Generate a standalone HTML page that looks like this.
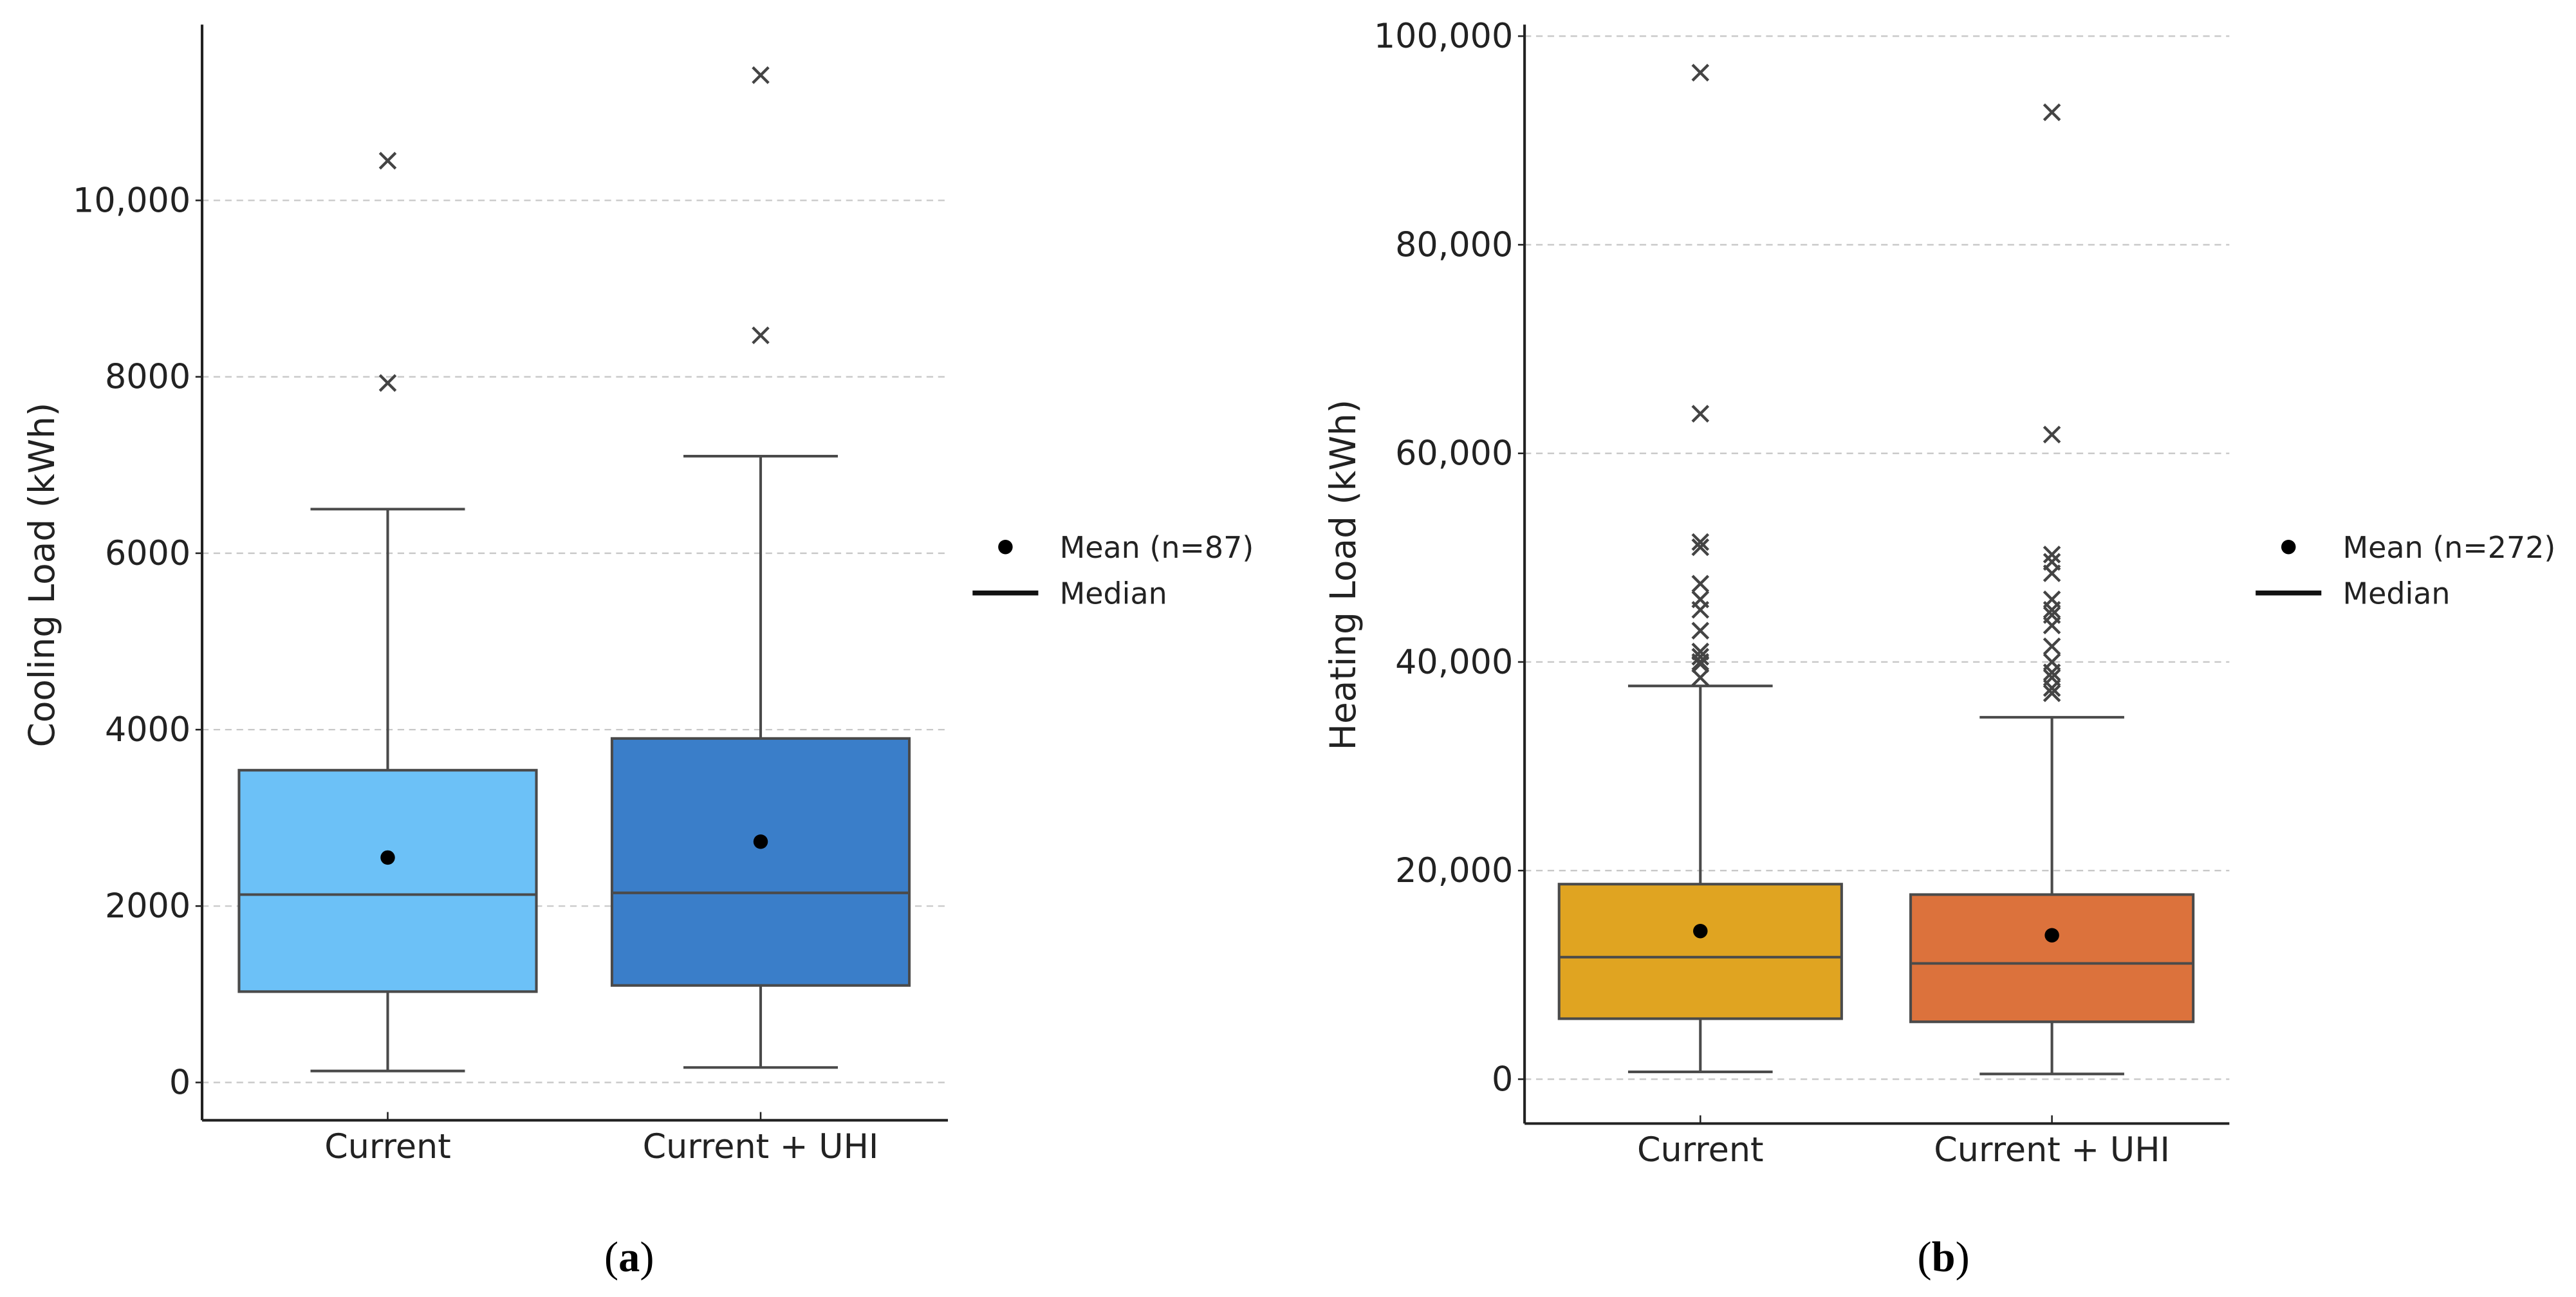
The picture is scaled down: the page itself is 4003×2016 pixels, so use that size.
<!DOCTYPE html>
<html><head><meta charset="utf-8"><style>
html,body{margin:0;padding:0;background:#fff;width:4003px;height:2016px;overflow:hidden}
svg{display:block}
text{font-family:"DejaVu Sans","Liberation Sans",sans-serif;fill:#222}
</style></head><body>
<svg id="chart" width="4003" height="2016" viewBox="0 0 1568 789.6" preserveAspectRatio="none" xmlns="http://www.w3.org/2000/svg"></svg>
<script>
const categories = ["Current", "Current + UHI"];
// Panel a: cooling
const coolQ1 = [1030, 1100];
const coolQ3 = [3540, 3900];
const coolMedian = [2130, 2150];
const coolMean = [2550, 2730];
const coolWhiskerLo = [130, 170];
const coolWhiskerHi = [6500, 7100];
const coolOutliers = [[7930, 10450], [8470, 11420]];
const coolTicks = [0, 2000, 4000, 6000, 8000, 10000];
const coolTickLabels = ["0", "2000", "4000", "6000", "8000", "10,000"];
// Panel b: heating
const heatQ1 = [5800, 5500];
const heatQ3 = [18700, 17700];
const heatMedian = [11700, 11100];
const heatMean = [14200, 13800];
const heatWhiskerLo = [700, 500];
const heatWhiskerHi = [37700, 34700];
const heatOutliers = [
  [96500, 63800, 51500, 51000, 47500, 46000, 45000, 43000, 41000, 40500, 40000, 39800, 38500],
  [92700, 61800, 50300, 49600, 48500, 46000, 45000, 44500, 43500, 41500, 40000, 39000, 38500, 37500, 37000]
];
const heatTicks = [0, 20000, 40000, 60000, 80000, 100000];
const heatTickLabels = ["0", "20,000", "40,000", "60,000", "80,000", "100,000"];

const NS = "http://www.w3.org/2000/svg";
const svg = document.getElementById("chart");
function mk(tag, attrs, parent, txt) {
  const e = document.createElementNS(NS, tag);
  for (const k in attrs) e.setAttribute(k, attrs[k]);
  if (txt !== undefined) e.textContent = txt;
  (parent || svg).appendChild(e);
  return e;
}

function panel(cfg) {
  const g = mk("g", {});
  
  
  const y = v => cfg.y0 - (v / cfg.tickStep) * cfg.tickPx;
  const xc = i => cfg.centers[i];
  cfg.ticks.forEach((t, i) => {
    const gl = mk("line", {x1: cfg.axX, x2: cfg.gridEnd, y1: y(t), y2: y(t), stroke: "#c8c8c8", "stroke-width": 0.9, "stroke-dasharray": "4,3"}, g);
    
    
    mk("line", {x1: cfg.axX - 4, x2: cfg.axX, y1: y(t), y2: y(t), stroke: "#222", "stroke-width": 1}, g);
    const tl = mk("text", {x: cfg.axX - 7, y: y(t) + 7, "text-anchor": "end", "font-size": 20.5}, g, cfg.tickLabels[i]);
    
    
  });
  const ya = mk("line", {x1: cfg.axX, x2: cfg.axX, y1: 15, y2: cfg.axY, stroke: "#222", "stroke-width": 1.6}, g);
  
  
  const xa = mk("line", {x1: cfg.axX, x2: cfg.gridEnd, y1: cfg.axY, y2: cfg.axY, stroke: "#222", "stroke-width": 1.6}, g);
  
  
  const yl = mk("text", {x: 0, y: 0, "text-anchor": "middle", "font-size": 21.5, transform: `translate(${cfg.ylabelX},350) rotate(-90)`}, g, cfg.ylabel);
  
  
  categories.forEach((c, i) => {
    const bg = mk("g", {}, g);
    
    
    const hw = cfg.boxHalf, cw = cfg.capHalf, x = xc(i);
    mk("line", {x1: x, x2: x, y1: y(cfg.wHi[i]), y2: y(cfg.q3[i]), stroke: "#4a4a4a", "stroke-width": 1.6}, bg);
    mk("line", {x1: x, x2: x, y1: y(cfg.q1[i]), y2: y(cfg.wLo[i]), stroke: "#4a4a4a", "stroke-width": 1.6}, bg);
    mk("line", {x1: x - cw, x2: x + cw, y1: y(cfg.wHi[i]), y2: y(cfg.wHi[i]), stroke: "#4a4a4a", "stroke-width": 1.6}, bg);
    mk("line", {x1: x - cw, x2: x + cw, y1: y(cfg.wLo[i]), y2: y(cfg.wLo[i]), stroke: "#4a4a4a", "stroke-width": 1.6}, bg);
    mk("rect", {x: x - hw, y: y(cfg.q3[i]), width: 2 * hw, height: y(cfg.q1[i]) - y(cfg.q3[i]), fill: cfg.colors[i], stroke: "#4a4a4a", "stroke-width": 1.6}, bg);
    mk("line", {x1: x - hw, x2: x + hw, y1: y(cfg.med[i]), y2: y(cfg.med[i]), stroke: "#4a4a4a", "stroke-width": 1.6}, bg);
    const m = mk("circle", {cx: x, cy: y(cfg.mean[i]), r: 4.4, fill: "#000"}, bg);
    
    
    cfg.outliers[i].forEach(v => {
      const oy = y(v), s = 4.8;
      const o = mk("path", {d: `M${x - s},${oy - s}L${x + s},${oy + s}M${x - s},${oy + s}L${x + s},${oy - s}`, stroke: "#444", "stroke-width": 1.7, fill: "none"}, bg);
      
      
    });
    mk("line", {x1: x, x2: x, y1: cfg.axY - 5, y2: cfg.axY, stroke: "#222", "stroke-width": 1}, g);
    const xl = mk("text", {x: x, y: cfg.axY + 23, "text-anchor": "middle", "font-size": 20.5}, g, c);
    
    
  });
  const lg = mk("g", {}, g);
  
  
  mk("circle", {cx: cfg.legX + 20, cy: 333, r: 4.4, fill: "#000"}, lg);
  mk("text", {x: cfg.legX + 53, y: 339.5, "font-size": 18, fill: "#333"}, lg, cfg.meanLabel);
  mk("line", {x1: cfg.legX, x2: cfg.legX + 40, y1: 361, y2: 361, stroke: "#111", "stroke-width": 3}, lg);
  mk("text", {x: cfg.legX + 53, y: 367.5, "font-size": 18, fill: "#333"}, lg, "Median");
  const pl = mk("text", {x: cfg.capX, y: 774, "text-anchor": "middle", "font-size": 26, style: "font-family:'Liberation Serif',serif;fill:#000"}, g);
  
  
  mk("tspan", {}, pl, "(");
  mk("tspan", {"font-weight": "bold"}, pl, cfg.panelLetter);
  mk("tspan", {}, pl, ")");
}

panel({name: "panel-a-cooling", y0: 659, tickStep: 2000, tickPx: 107.4, axX: 123, axY: 682, gridEnd: 577,
  ticks: coolTicks, tickLabels: coolTickLabels, centers: [236, 463], boxHalf: 90.5, capHalf: 47,
  q1: coolQ1, q3: coolQ3, med: coolMedian, mean: coolMean, wLo: coolWhiskerLo, wHi: coolWhiskerHi, outliers: coolOutliers,
  colors: ["#6CC1F7", "#3A7EC9"], ylabel: "Cooling Load (kWh)", ylabelX: 33, legX: 592, meanLabel: "Mean (n=87)", capX: 383, panelLetter: "a"});
panel({name: "panel-b-heating", y0: 657, tickStep: 20000, tickPx: 127, axX: 928, axY: 684, gridEnd: 1357,
  ticks: heatTicks, tickLabels: heatTickLabels, centers: [1035, 1249], boxHalf: 86, capHalf: 44,
  q1: heatQ1, q3: heatQ3, med: heatMedian, mean: heatMean, wLo: heatWhiskerLo, wHi: heatWhiskerHi, outliers: heatOutliers,
  colors: ["#E0A421", "#DC723C"], ylabel: "Heating Load (kWh)", ylabelX: 825, legX: 1373, meanLabel: "Mean (n=272)", capX: 1183, panelLetter: "b"});
</script>
</body></html>
